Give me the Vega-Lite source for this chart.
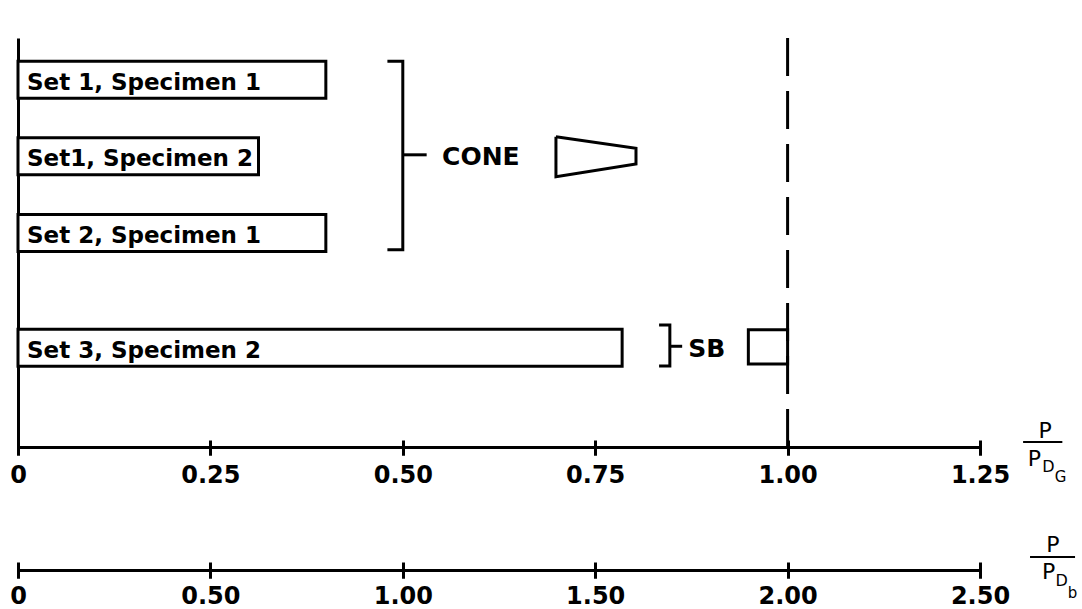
{
  "$schema": "https://vega.github.io/schema/vega-lite/v6.json",
  "width": 962,
  "height": 409,
  "autosize": {"type": "none"},
  "padding": {"left": 18, "top": 38, "right": 102, "bottom": 162},
  "background": "white",
  "config": {"view": {"stroke": null}, "font": "DejaVu Sans"},
  "datasets": {
    "bars": [
      {"label": "Set 1, Specimen 1", "v": 0.40, "r": 1},
      {"label": "Set1, Specimen 2", "v": 0.3125, "r": 2},
      {"label": "Set 2, Specimen 1", "v": 0.40, "r": 3},
      {"label": "Set 3, Specimen 2", "v": 0.785, "r": 4.5}
    ],
    "paths": [
      {"g": "cb", "o": 1, "x": 0.48, "y": 0.758},
      {"g": "cb", "o": 2, "x": 0.5, "y": 0.758},
      {"g": "cb", "o": 3, "x": 0.5, "y": 3.221},
      {"g": "cb", "o": 4, "x": 0.48, "y": 3.221},
      {"g": "ct", "o": 1, "x": 0.5, "y": 1.98},
      {"g": "ct", "o": 2, "x": 0.531, "y": 1.98},
      {"g": "sbb", "o": 1, "x": 0.833, "y": 4.202},
      {"g": "sbb", "o": 2, "x": 0.847, "y": 4.202},
      {"g": "sbb", "o": 3, "x": 0.847, "y": 4.737},
      {"g": "sbb", "o": 4, "x": 0.833, "y": 4.737},
      {"g": "sbt", "o": 1, "x": 0.847, "y": 4.48},
      {"g": "sbt", "o": 2, "x": 0.863, "y": 4.48},
      {"g": "cone", "o": 1, "x": 0.699, "y": 1.743},
      {"g": "cone", "o": 2, "x": 0.803, "y": 1.896},
      {"g": "cone", "o": 3, "x": 0.803, "y": 2.100},
      {"g": "cone", "o": 4, "x": 0.699, "y": 2.265},
      {"g": "cone", "o": 5, "x": 0.699, "y": 1.743}
    ],
    "fracs": [
      {"g": "f1", "o": 1, "x": 1.306, "y": 5.73},
      {"g": "f1", "o": 2, "x": 1.357, "y": 5.73},
      {"g": "f2", "o": 1, "x": 1.315, "y": 7.233},
      {"g": "f2", "o": 2, "x": 1.3735, "y": 7.233}
    ],
    "notes": [
      {"t": "CONE", "x": 0.551, "y": 2.112, "k": "main"},
      {"t": "SB", "x": 0.871, "y": 4.622, "k": "main"},
      {"t": "P", "x": 1.326, "y": 5.679, "k": "P"},
      {"t": "P", "x": 1.312, "y": 6.049, "k": "P"},
      {"t": "D", "x": 1.331, "y": 6.125, "k": "sub"},
      {"t": "G", "x": 1.347, "y": 6.252, "k": "sub2"},
      {"t": "P", "x": 1.336, "y": 7.170, "k": "P"},
      {"t": "P", "x": 1.3306, "y": 7.514, "k": "P"},
      {"t": "D", "x": 1.348, "y": 7.616, "k": "sub"},
      {"t": "b", "x": 1.364, "y": 7.768, "k": "sub2"}
    ],
    "boxes": [
      {"x": 0.949, "x2": 1.0, "y": 4.265, "y2": 4.711}
    ],
    "limit": [{"v": 1.0}]
  },
  "layer": [
    {
      "layer": [
        {
          "data": {"name": "bars"},
          "mark": {"type": "bar", "orient": "horizontal", "size": 37, "fill": "white", "stroke": "black", "strokeWidth": 3},
          "encoding": {
            "x": {
              "field": "v", "type": "quantitative", "title": null,
              "scale": {"domain": [0, 1.25], "nice": false, "zero": false},
              "axis": {
                "orient": "bottom",
                "values": [0, 0.25, 0.5, 0.75, 1, 1.25],
                "grid": false,
                "domain": true, "domainWidth": 3, "domainColor": "black",
                "ticks": true, "tickColor": "black", "tickWidth": 3, "tickSize": 8,
                "labelFont": "DejaVu Sans", "labelFontWeight": "bold", "labelFontSize": 24, "labelColor": "black",
                "labelPadding": 8, "labelFlush": false, "labelOverlap": false,
                "labelExpr": "datum.value == 0 ? '0' : format(datum.value, '.2f')",
                "title": null
              }
            },
            "y": {
              "field": "r", "type": "quantitative", "title": null,
              "scale": {"domain": [0.52, 5.73], "reverse": true, "nice": false, "zero": false},
              "axis": {"domain": true, "domainWidth": 3, "domainColor": "black", "ticks": false, "labels": false, "grid": false, "title": null}
            }
          }
        },
        {
          "data": {"name": "bars"},
          "mark": {"type": "text", "align": "left", "baseline": "middle", "dx": 9, "dy": 3, "font": "DejaVu Sans", "fontWeight": "bold", "fontSize": 23, "color": "black"},
          "encoding": {
            "x": {"datum": 0, "type": "quantitative"},
            "y": {"field": "r", "type": "quantitative", "title": null},
            "text": {"field": "label"}
          }
        },
        {
          "data": {"name": "paths"},
          "mark": {"type": "line", "color": "black", "strokeWidth": 3, "strokeJoin": "miter"},
          "encoding": {
            "x": {"field": "x", "type": "quantitative", "title": null},
            "y": {"field": "y", "type": "quantitative", "title": null},
            "detail": {"field": "g"},
            "order": {"field": "o", "type": "quantitative"}
          }
        },
        {
          "data": {"name": "boxes"},
          "mark": {"type": "rect", "fill": "white", "stroke": "black", "strokeWidth": 3},
          "encoding": {
            "x": {"field": "x", "type": "quantitative", "title": null},
            "x2": {"field": "x2"},
            "y": {"field": "y", "type": "quantitative", "title": null},
            "y2": {"field": "y2"}
          }
        },
        {
          "data": {"name": "limit"},
          "mark": {"type": "rule", "color": "black", "strokeWidth": 3, "strokeDash": [38, 15]},
          "encoding": {
            "x": {"field": "v", "type": "quantitative", "title": null}
          }
        },
        {
          "data": {"name": "fracs"},
          "mark": {"type": "line", "color": "black", "strokeWidth": 2},
          "encoding": {
            "x": {"field": "x", "type": "quantitative", "title": null},
            "y": {"field": "y", "type": "quantitative", "title": null},
            "detail": {"field": "g"},
            "order": {"field": "o", "type": "quantitative"}
          }
        },
        {
          "data": {"name": "notes"},
          "transform": [{"filter": "datum.k == 'main'"}],
          "mark": {"type": "text", "align": "left", "baseline": "alphabetic", "font": "DejaVu Sans", "fontWeight": "bold", "fontSize": 25, "color": "black"},
          "encoding": {
            "x": {"field": "x", "type": "quantitative", "title": null},
            "y": {"field": "y", "type": "quantitative", "title": null},
            "text": {"field": "t"}
          }
        },
        {
          "data": {"name": "notes"},
          "transform": [{"filter": "datum.k == 'P'"}],
          "mark": {"type": "text", "align": "left", "baseline": "alphabetic", "font": "DejaVu Sans", "fontSize": 22, "color": "black"},
          "encoding": {
            "x": {"field": "x", "type": "quantitative", "title": null},
            "y": {"field": "y", "type": "quantitative", "title": null},
            "text": {"field": "t"}
          }
        },
        {
          "data": {"name": "notes"},
          "transform": [{"filter": "datum.k == 'sub'"}],
          "mark": {"type": "text", "align": "left", "baseline": "alphabetic", "font": "DejaVu Sans", "fontSize": 16, "color": "black"},
          "encoding": {
            "x": {"field": "x", "type": "quantitative", "title": null},
            "y": {"field": "y", "type": "quantitative", "title": null},
            "text": {"field": "t"}
          }
        },
        {
          "data": {"name": "notes"},
          "transform": [{"filter": "datum.k == 'sub2'"}],
          "mark": {"type": "text", "align": "left", "baseline": "alphabetic", "font": "DejaVu Sans", "fontSize": 15, "color": "black"},
          "encoding": {
            "x": {"field": "x", "type": "quantitative", "title": null},
            "y": {"field": "y", "type": "quantitative", "title": null},
            "text": {"field": "t"}
          }
        }
      ]
    },
    {
      "data": {"values": [{"v": 0}]},
      "mark": {"type": "point", "opacity": 0},
      "encoding": {
        "x": {
          "field": "v", "type": "quantitative", "title": null,
          "scale": {"domain": [0, 1.25], "nice": false, "zero": false},
          "axis": {"orient": "bottom", "offset": -7, "values": [0, 0.25, 0.5, 0.75, 1, 1.25], "domain": false, "labels": false, "grid": false, "tickSize": 15, "tickWidth": 3, "tickColor": "black", "title": null}
        }
      }
    },
    {
      "data": {"values": [{"v": 0}]},
      "mark": {"type": "point", "opacity": 0},
      "encoding": {
        "x": {
          "field": "v", "type": "quantitative", "title": null,
          "scale": {"domain": [0, 2.5], "nice": false, "zero": false},
          "axis": {
            "orient": "bottom", "offset": 123,
            "values": [0, 0.5, 1, 1.5, 2, 2.5],
            "grid": false,
            "domain": true, "domainWidth": 3, "domainColor": "black",
            "ticks": true, "tickColor": "black", "tickWidth": 3, "tickSize": 8,
            "labelFont": "DejaVu Sans", "labelFontWeight": "bold", "labelFontSize": 24, "labelColor": "black",
            "labelPadding": 6, "labelFlush": false, "labelOverlap": false,
            "labelExpr": "datum.value == 0 ? '0' : format(datum.value, '.2f')",
            "title": null
          }
        }
      }
    },
    {
      "data": {"values": [{"v": 0}]},
      "mark": {"type": "point", "opacity": 0},
      "encoding": {
        "x": {
          "field": "v", "type": "quantitative", "title": null,
          "scale": {"domain": [0, 2.5], "nice": false, "zero": false},
          "axis": {"orient": "bottom", "offset": 115, "values": [0, 0.5, 1, 1.5, 2, 2.5], "domain": false, "labels": false, "grid": false, "tickSize": 16, "tickWidth": 3, "tickColor": "black", "title": null}
        }
      }
    }
  ],
  "resolve": {"scale": {"x": "independent"}, "axis": {"x": "independent"}}
}
